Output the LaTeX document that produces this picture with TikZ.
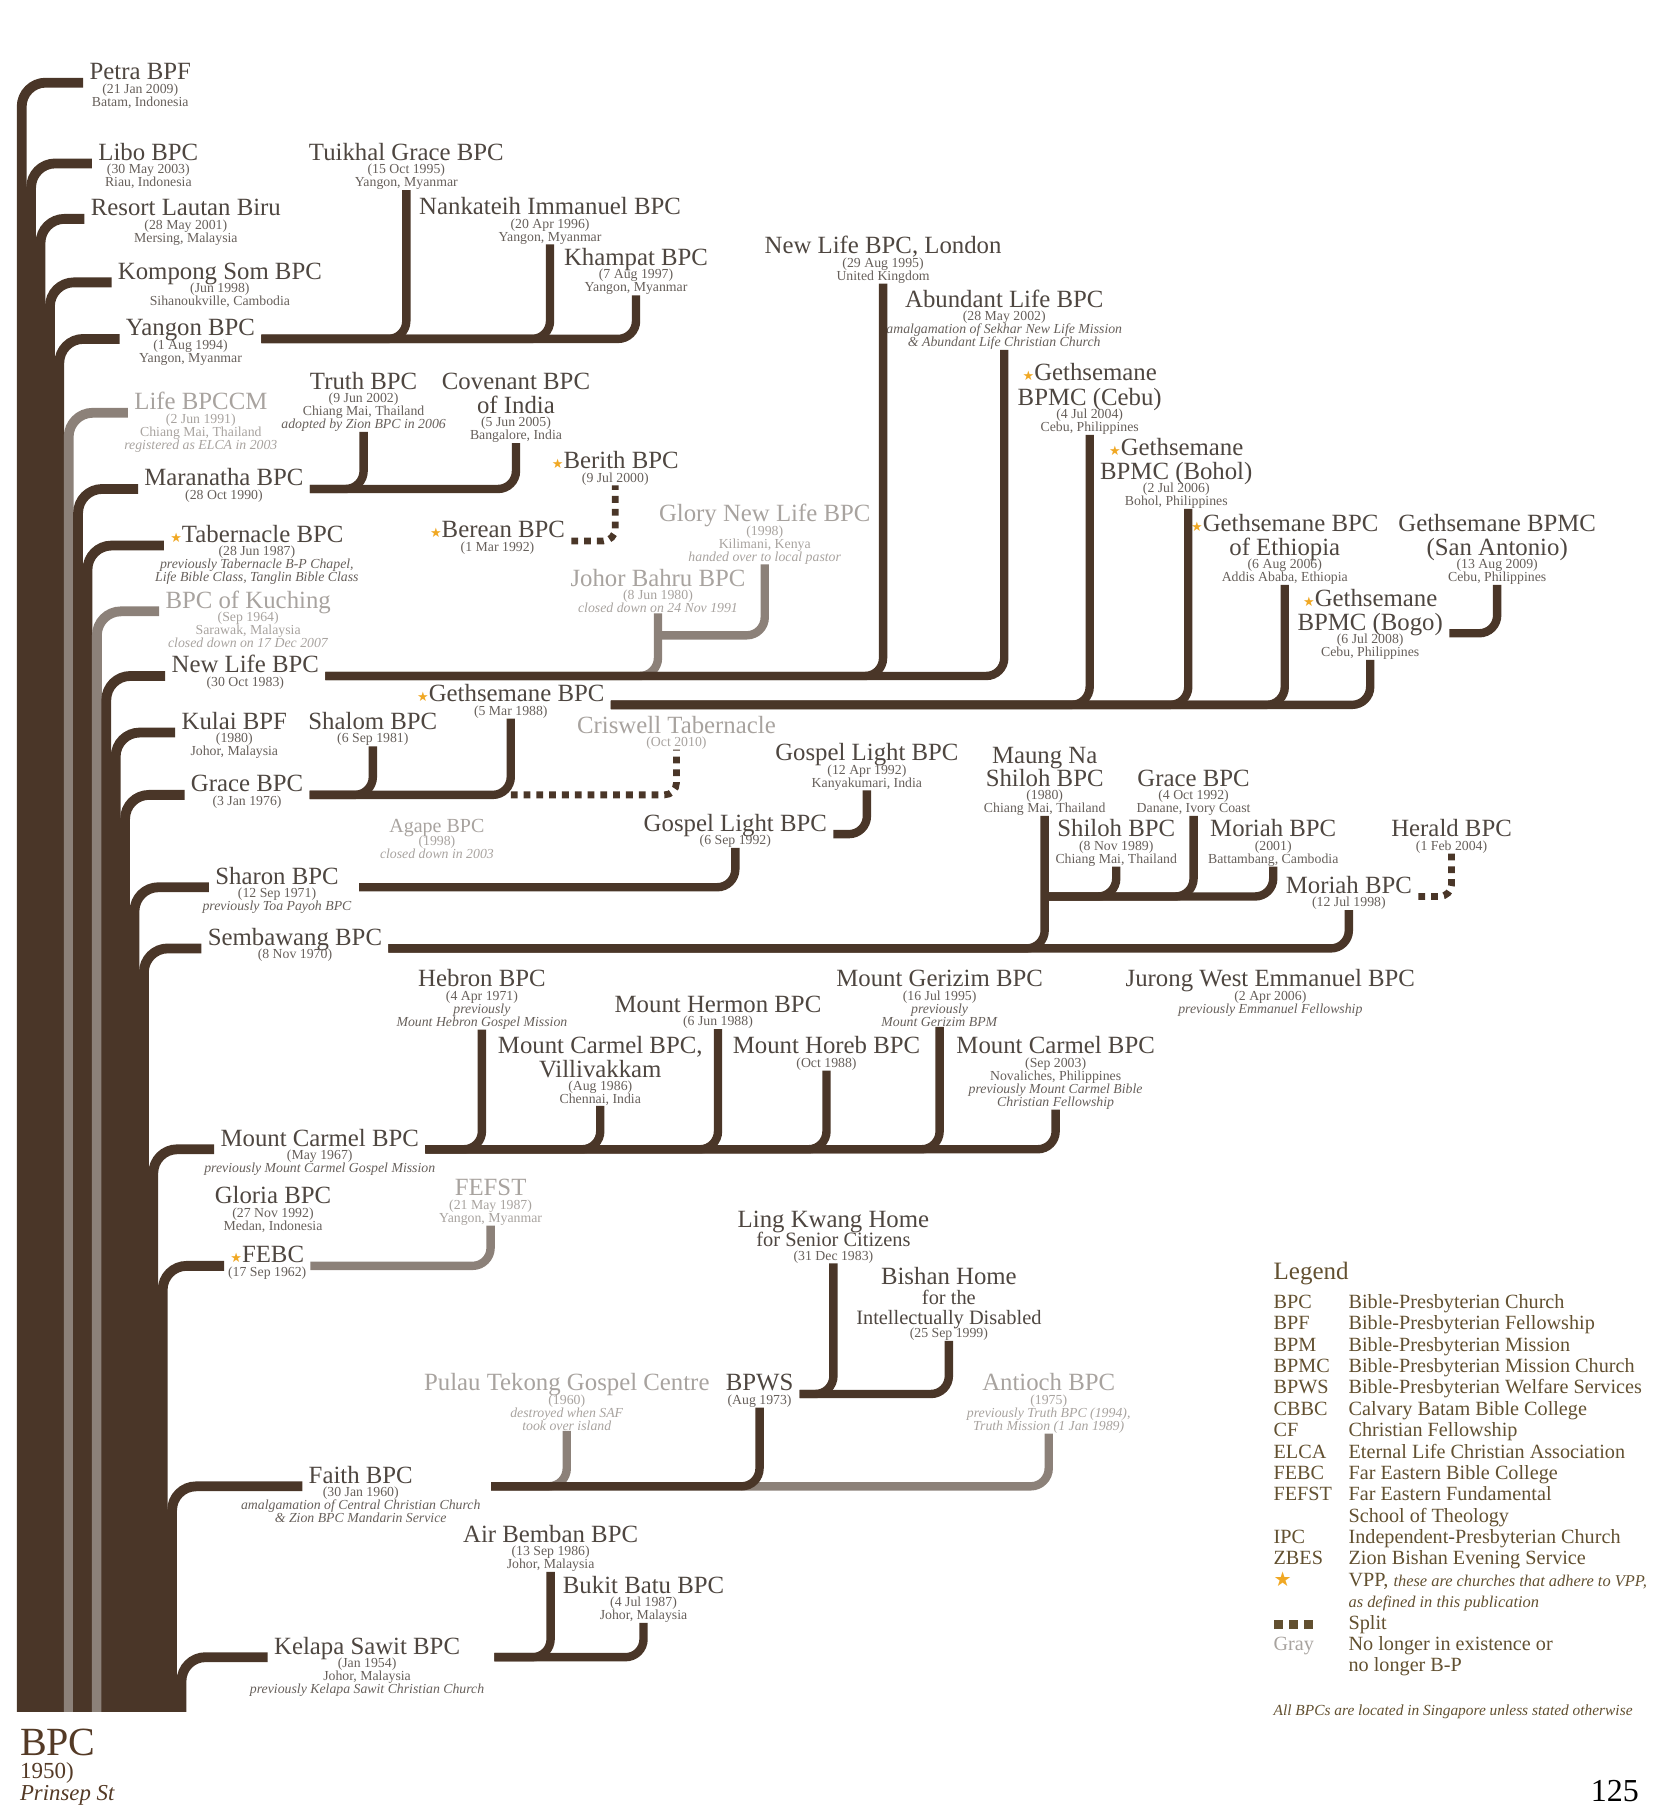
\documentclass[tikz,border=0pt]{standalone}
\usepackage{fontspec}
\setmainfont{Liberation Serif}
\newfontfamily\starfont{DejaVu Sans}
\definecolor{bark}{RGB}{74,54,40}
\definecolor{ash}{RGB}{140,129,121}
\definecolor{ink}{RGB}{78,70,64}
\definecolor{inksoft}{RGB}{102,95,90}
\definecolor{faded}{RGB}{168,163,159}
\definecolor{vppgold}{RGB}{240,168,36}
\definecolor{legendbrown}{RGB}{98,80,48}
\definecolor{bpcbrown}{RGB}{84,58,38}
\usetikzlibrary{positioning,calc}
\newcommand{\vppstar}{{\starfont\fontsize{6.5}{6.5}\selectfont\textcolor{vppgold}{★}}}

\begin{document}
\begin{tikzpicture}[x=0.5773pt, y=-0.5773pt,
    ttl/.style={font=\fontsize{12.4}{11.5}\selectfont, text=ink, anchor=base, inner xsep=3pt, inner ysep=0pt, text height=0pt, text depth=3pt},
    ttlsmall/.style={ttl, font=\fontsize{10.2}{10}\selectfont},
    gttl/.style={ttl, text=faded},
    info/.style={font={\fontsize{6.9}{6.5}\selectfont\lineskiplimit=-5pt}, text=inksoft, align=center, inner sep=0pt},
    ginfo/.style={info, text=faded},
    strand/.style={draw=bark, line width=4.9pt, rounded corners=12pt},
    gstrand/.style={strand, draw=ash},
    branch/.style={draw=bark, line width=4.2pt, rounded corners=9pt},
    gbranch/.style={branch, draw=ash},
    split/.style={draw=bark, line width=3.4pt, dash pattern=on 3.4pt off 3pt, rounded corners=6pt},
    legend/.style={font=\fontsize{10.1}{10.7}\selectfont, text=legendbrown, inner sep=0pt}]
    \useasboundingbox (0,0) rectangle (1455,1568);

    % Trunk branches
    \node[ttl] (petra) at (121.5,69) {Petra BPF};
    \node[info, below=-1.5pt of petra] (petra-i) {(21 Jan 2009)\\Batam, Indonesia};
    \node[ttl] (libo) at (128.5,139) {Libo BPC};
    \node[info, below=-1.5pt of libo] (libo-i) {(30 May 2003)\\Riau, Indonesia};
    \node[ttl] (resort) at (161,187) {Resort Lautan Biru};
    \node[info, below=-1.5pt of resort] (resort-i) {(28 May 2001)\\Mersing, Malaysia};
    \node[ttl] (kompong) at (190.5,242) {Kompong Som BPC};
    \node[info, below=-1.5pt of kompong] (kompong-i) {(Jun 1998)\\Sihanoukville, Cambodia};
    \node[ttl] (yangon) at (165,291) {Yangon BPC};
    \node[info, below=-1.5pt of yangon] (yangon-i) {(1 Aug 1994)\\Yangon, Myanmar};
    \node[gttl] (lifecm) at (174,355) {Life BPCCM};
    \node[ginfo, below=-1.5pt of lifecm] (lifecm-i) {(2 Jun 1991)\\Chiang Mai, Thailand\\\textit{registered as ELCA in 2003}};
    \node[ttl] (maranatha) at (194,421) {Maranatha BPC};
    \node[info, below=-1.5pt of maranatha] (maranatha-i) {(28 Oct 1990)};
    \node[ttl] (tabernacle) at (222.5,470) {\vppstar Tabernacle BPC};
    \node[info, below=-1.5pt of tabernacle] (tabernacle-i) {(28 Jun 1987)\\\textit{previously Tabernacle B-P Chapel,}\\\textit{Life Bible Class, Tanglin Bible Class}};
    \node[gttl] (kuching) at (215,527) {BPC of Kuching};
    \node[ginfo, below=-1.5pt of kuching] (kuching-i) {(Sep 1964)\\Sarawak, Malaysia\\\textit{closed down on 17 Dec 2007}};
    \node[ttl] (newlife) at (212.5,583) {New Life BPC};
    \node[info, below=-1.5pt of newlife] (newlife-i) {(30 Oct 1983)};
    \node[ttl] (kulai) at (203,632) {Kulai BPF};
    \node[info, below=-1.5pt of kulai] (kulai-i) {(1980)\\Johor, Malaysia};
    \node[ttl] (grace) at (214,686) {Grace BPC};
    \node[info, below=-1.5pt of grace] (grace-i) {(3 Jan 1976)};
    \node[ttl] (sharon) at (240,766) {Sharon BPC};
    \node[info, below=-1.5pt of sharon] (sharon-i) {(12 Sep 1971)\\\textit{previously Toa Payoh BPC}};
    \node[ttl] (sembawang) at (255.5,819) {Sembawang BPC};
    \node[info, below=-1.5pt of sembawang] (sembawang-i) {(8 Nov 1970)};
    \node[ttl] (mtcarmel) at (277,993) {Mount Carmel BPC};
    \node[info, below=-1.5pt of mtcarmel] (mtcarmel-i) {(May 1967)\\\textit{previously Mount Carmel Gospel Mission}};
    \node[ttl] (gloria) at (236.5,1043) {Gloria BPC};
    \node[info, below=-1.5pt of gloria] (gloria-i) {(27 Nov 1992)\\Medan, Indonesia};
    \node[ttl] (febc) at (231.5,1094) {\vppstar FEBC};
    \node[info, below=-1.5pt of febc] (febc-i) {(17 Sep 1962)};
    \node[ttl] (faith) at (312.5,1285) {Faith BPC};
    \node[info, below=-1.5pt of faith] (faith-i) {(30 Jan 1960)\\\textit{amalgamation of Central Christian Church}\\\textit{\& Zion BPC Mandarin Service}};
    \node[ttl] (kelapa) at (318,1433) {Kelapa Sawit BPC};
    \node[info, below=-1.5pt of kelapa] (kelapa-i) {(Jan 1954)\\Johor, Malaysia\\\textit{previously Kelapa Sawit Christian Church}};

    % Trunk
    \coordinate (root) at (18.8,1483);
    \draw[strand] (root) |- (petra.west);
    \draw[strand] ([xshift=4.7pt]root) |- (libo.west);
    \draw[strand] ([xshift=9.4pt]root) |- (resort.west);
    \draw[strand] ([xshift=14.1pt]root) |- (kompong.west);
    \draw[strand] ([xshift=18.8pt]root) |- (yangon.west);
    \draw[gstrand] ([xshift=23.5pt]root) |- (lifecm.west);
    \draw[strand] ([xshift=28.2pt]root) |- (maranatha.west);
    \draw[strand] ([xshift=32.9pt]root) |- (tabernacle.west);
    \draw[gstrand] ([xshift=37.6pt]root) |- (kuching.west);
    \draw[strand] ([xshift=42.3pt]root) |- (newlife.west);
    \draw[strand] ([xshift=47pt]root) |- (kulai.west);
    \draw[strand] ([xshift=51.7pt]root) |- (grace.west);
    \draw[strand] ([xshift=56.4pt]root) |- (sharon.west);
    \draw[strand] ([xshift=61.1pt]root) |- (sembawang.west);
    \draw[strand] ([xshift=65.8pt]root) |- (mtcarmel.west);
    \draw[strand] ([xshift=70.5pt]root) |- (febc.west);
    \draw[strand] ([xshift=75.2pt]root) |- (faith.west);
    \draw[strand] ([xshift=79.9pt]root) |- (kelapa.west);

    % Yangon's churches
    \node[ttl] (tuikhal) at (352,139) {Tuikhal Grace BPC};
    \node[info, below=-1.5pt of tuikhal] (tuikhal-i) {(15 Oct 1995)\\Yangon, Myanmar};
    \node[ttl] (nankateih) at (476.5,186) {Nankateih Immanuel BPC};
    \node[info, below=-1.5pt of nankateih] (nankateih-i) {(20 Apr 1996)\\Yangon, Myanmar};
    \node[ttl] (khampat) at (551,230) {Khampat BPC};
    \node[info, below=-1.5pt of khampat] (khampat-i) {(7 Aug 1997)\\Yangon, Myanmar};
    \draw[branch] (yangon.east) -| (tuikhal-i.south);
    \draw[branch] (yangon.east) -| (nankateih-i.south);
    \draw[branch] (yangon.east) -| (khampat-i.south);

    % Maranatha's churches
    \node[ttl] (truth) at (315,337) {Truth BPC};
    \node[info, below=-1.5pt of truth] (truth-i) {(9 Jun 2002)\\Chiang Mai, Thailand\\\textit{adopted by Zion BPC in 2006}};
    \node[ttl] (covenant-t) at (447,337) {Covenant BPC};
    \node[ttl] (covenant) at (447,358) {of India};
    \node[info, below=-1.5pt of covenant] (covenant-i) {(5 Jun 2005)\\Bangalore, India};
    \draw[branch] (maranatha.east) -| (truth-i.south);
    \draw[branch] (maranatha.east) -| (covenant-i.south);

    % Berean and Berith
    \node[ttl] (berith) at (533,406) {\vppstar Berith BPC};
    \node[info, below=-1.5pt of berith] (berith-i) {(9 Jul 2000)};
    \node[ttl] (berean) at (431,466) {\vppstar Berean BPC};
    \node[info, below=-1.5pt of berean] (berean-i) {(1 Mar 1992)};
    \draw[split] (berean.east) -| (berith-i.south);

    % New Life's churches
    \node[gttl] (glory) at (662.5,452) {Glory New Life BPC};
    \node[ginfo, below=-1.5pt of glory] (glory-i) {(1998)\\Kilimani, Kenya\\\textit{handed over to local pastor}};
    \node[gttl] (johor) at (570,508) {Johor Bahru BPC};
    \node[ginfo, below=-1.5pt of johor] (johor-i) {(8 Jun 1980)\\\textit{closed down on 24 Nov 1991}};
    \node[ttl] (nllondon) at (765,220) {New Life BPC, London};
    \node[info, below=-1.5pt of nllondon] (nllondon-i) {(29 Aug 1995)\\United Kingdom};
    \node[ttl] (abundant) at (870,266) {Abundant Life BPC};
    \node[info, below=-1.5pt of abundant] (abundant-i) {(28 May 2002)\\\textit{amalgamation of Sekhar New Life Mission}\\\textit{\& Abundant Life Christian Church}};
    \draw[gbranch] (newlife.east) -| (johor-i.south);
    \draw[gbranch] ([yshift=-11pt]johor-i.south) -| (glory-i.south);
    \draw[branch] (newlife.east) -| (nllondon-i.south);
    \draw[branch] (newlife.east) -| (abundant-i.south);

    % Gethsemane's churches
    \node[ttl] (geth) at (442.5,608) {\vppstar Gethsemane BPC};
    \node[info, below=-1.5pt of geth] (geth-i) {(5 Mar 1988)};
    \node[ttl] (gcebu-t) at (944,330) {\vppstar Gethsemane};
    \node[ttl] (gcebu) at (944,351) {BPMC (Cebu)};
    \node[info, below=-1.5pt of gcebu] (gcebu-i) {(4 Jul 2004)\\Cebu, Philippines};
    \node[ttl] (gbohol-t) at (1019,395) {\vppstar Gethsemane};
    \node[ttl] (gbohol) at (1019,415) {BPMC (Bohol)};
    \node[info, below=-1.5pt of gbohol] (gbohol-i) {(2 Jul 2006)\\Bohol, Philippines};
    \node[ttl] (gethio-t) at (1113,460) {\vppstar Gethsemane BPC};
    \node[ttl] (gethio) at (1113,481) {of Ethiopia};
    \node[info, below=-1.5pt of gethio] (gethio-i) {(6 Aug 2006)\\Addis Ababa, Ethiopia};
    \node[ttl] (gsanant-t) at (1297,460) {Gethsemane BPMC};
    \node[ttl] (gsanant) at (1297,481) {(San Antonio)};
    \node[info, below=-1.5pt of gsanant] (gsanant-i) {(13 Aug 2009)\\Cebu, Philippines};
    \node[ttl] (gbogo-t) at (1187,525) {\vppstar Gethsemane};
    \node[ttl] (gbogo) at (1187,546) {BPMC (Bogo)};
    \node[info, below=-1.5pt of gbogo] (gbogo-i) {(6 Jul 2008)\\Cebu, Philippines};
    \draw[branch] (geth.east) -| (gcebu-i.south);
    \draw[branch] (geth.east) -| ([xshift=6pt]gbohol-i.south);
    \draw[branch] (geth.east) -| (gethio-i.south);
    \draw[branch] (geth.east) -| (gbogo-i.south);
    \draw[branch] (gsanant-i.south) |- (gbogo.east);

    % Grace's churches
    \node[ttl] (shalom) at (323,632) {Shalom BPC};
    \node[info, below=-1.5pt of shalom] (shalom-i) {(6 Sep 1981)};
    \node[gttl] (criswell) at (586,635) {Criswell Tabernacle};
    \node[ginfo, below=-1.5pt of criswell] (criswell-i) {(Oct 2010)};
    \draw[branch] (grace.east) -| (shalom-i.south);
    \draw[branch] (grace.east) -| (geth-i.south);
    \draw[split] (geth-i.south |- grace.east) -| (criswell-i.south);

    % Sharon and Gospel Light
    \node[ttl] (gl1) at (751,659) {Gospel Light BPC};
    \node[info, below=-1.5pt of gl1] (gl1-i) {(12 Apr 1992)\\Kanyakumari, India};
    \node[ttl] (gl2) at (637,720) {Gospel Light BPC};
    \node[info, below=-1.5pt of gl2] (gl2-i) {(6 Sep 1992)};
    \node[gttl, font=\fontsize{10}{10}\selectfont] (agape) at (378.5,721) {Agape BPC};
    \node[ginfo, below=-1.5pt of agape] (agape-i) {(1998)\\\textit{closed down in 2003}};
    \draw[branch] (gl2.east) -| (gl1-i.south);
    \draw[branch] ([xshift=7pt]sharon.east) -| (gl2-i.south);

    % Sembawang's churches
    \node[ttl] (maungna-t) at (905,661) {Maung Na};
    \node[ttl] (maungna) at (905,681) {Shiloh BPC};
    \node[info, below=-1.5pt of maungna] (maungna-i) {(1980)\\Chiang Mai, Thailand};
    \node[ttl] (gracec) at (1034,681) {Grace BPC};
    \node[info, below=-1.5pt of gracec] (gracec-i) {(4 Oct 1992)\\Danane, Ivory Coast};
    \node[ttl] (shiloh) at (967,725) {Shiloh BPC};
    \node[info, below=-1.5pt of shiloh] (shiloh-i) {(8 Nov 1989)\\Chiang Mai, Thailand};
    \node[ttl] (moriah1) at (1103,725) {Moriah BPC};
    \node[info, below=-1.5pt of moriah1] (moriah1-i) {(2001)\\Battambang, Cambodia};
    \node[ttl] (herald) at (1257.5,725) {Herald BPC};
    \node[info, below=-1.5pt of herald] (herald-i) {(1 Feb 2004)};
    \node[ttl] (moriah2) at (1168.5,774) {Moriah BPC};
    \node[info, below=-1.5pt of moriah2] (moriah2-i) {(12 Jul 1998)};
    \draw[branch] (sembawang.east) -| (maungna-i.south);
    \draw[branch] (sembawang.east) -| (moriah2-i.south);
    \draw[branch] (maungna-i.south |- moriah2.west) -| (shiloh-i.south);
    \draw[branch] (maungna-i.south |- moriah2.west) -| (gracec-i.south);
    \draw[branch] (maungna-i.south |- moriah2.west) -| (moriah1-i.south);
    \draw[split] (herald-i.south) |- (moriah2.east);

    % Mount Carmel's churches
    \node[ttl] (hebron) at (417.5,855) {Hebron BPC};
    \node[info, below=-1.5pt of hebron] (hebron-i) {(4 Apr 1971)\\\textit{previously}\\\textit{Mount Hebron Gospel Mission}};
    \node[ttl] (villi-t) at (520,913) {Mount Carmel BPC,};
    \node[ttl] (villi) at (520,933) {Villivakkam};
    \node[info, below=-1.5pt of villi] (villi-i) {(Aug 1986)\\Chennai, India};
    \node[ttl] (hermon) at (622,877) {Mount Hermon BPC};
    \node[info, below=-1.5pt of hermon] (hermon-i) {(6 Jun 1988)};
    \node[ttl] (horeb) at (716,913) {Mount Horeb BPC};
    \node[info, below=-1.5pt of horeb] (horeb-i) {(Oct 1988)};
    \node[ttl] (gerizim) at (814,855) {Mount Gerizim BPC};
    \node[info, below=-1.5pt of gerizim] (gerizim-i) {(16 Jul 1995)\\\textit{previously}\\\textit{Mount Gerizim BPM}};
    \node[ttl] (mcphil) at (914.5,913) {Mount Carmel BPC};
    \node[info, below=-1.5pt of mcphil] (mcphil-i) {(Sep 2003)\\Novaliches, Philippines\\\textit{previously Mount Carmel Bible}\\\textit{Christian Fellowship}};
    \node[ttl] (jurong) at (1100.5,855) {Jurong West Emmanuel BPC};
    \node[info, below=-1.5pt of jurong] (jurong-i) {(2 Apr 2006)\\\textit{previously Emmanuel Fellowship}};
    \draw[branch] (mtcarmel.east) -| (hebron-i.south);
    \draw[branch] (mtcarmel.east) -| (villi-i.south);
    \draw[branch] (mtcarmel.east) -| (hermon-i.south);
    \draw[branch] (mtcarmel.east) -| (horeb-i.south);
    \draw[branch] (mtcarmel.east) -| (gerizim-i.south);
    \draw[branch] (mtcarmel.east) -| (mcphil-i.south);

    % FEBC
    \node[gttl] (fefst) at (425,1036) {FEFST};
    \node[ginfo, below=-1.5pt of fefst] (fefst-i) {(21 May 1987)\\Yangon, Myanmar};
    \draw[gbranch] (febc.east) -| (fefst-i.south);

    % Faith's churches
    \node[gttl] (tekong) at (491,1205) {Pulau Tekong Gospel Centre};
    \node[ginfo, below=-1.5pt of tekong] (tekong-i) {(1960)\\\textit{destroyed when SAF}\\\textit{took over island}};
    \node[ttl] (bpws) at (658,1205) {BPWS};
    \node[info, below=-1.5pt of bpws] (bpws-i) {(Aug 1973)};
    \node[gttl] (antioch) at (908.5,1205) {Antioch BPC};
    \node[ginfo, below=-1.5pt of antioch] (antioch-i) {(1975)\\\textit{previously Truth BPC (1994),}\\\textit{Truth Mission (1 Jan 1989)}};
    \node[ttl] (lingkwang-t) at (722,1063) {Ling Kwang Home};
    \node[ttlsmall] (lingkwang) at (722,1080) {for Senior Citizens};
    \node[info, below=-1.5pt of lingkwang] (lingkwang-i) {(31 Dec 1983)};
    \node[ttl] (bishan-t) at (822,1113) {Bishan Home};
    \node[ttlsmall] (bishan-m) at (822,1130) {for the};
    \node[ttlsmall] (bishan) at (822,1147) {Intellectually Disabled};
    \node[info, below=-1.5pt of bishan] (bishan-i) {(25 Sep 1999)};
    \draw[gbranch] ([xshift=36pt]faith.east) -| (tekong-i.south);
    \draw[gbranch] ($(bpws-i.south |- faith.east)+(-9pt,0)$) -| (antioch-i.south);
    \draw[branch] ([xshift=36pt]faith.east) -| (bpws-i.south);
    \draw[branch] (bpws.east) -| (lingkwang-i.south);
    \draw[branch] (bpws.east) -| (bishan-i.south);

    % Kelapa Sawit's churches
    \node[ttl] (airbemban) at (477,1336) {Air Bemban BPC};
    \node[info, below=-1.5pt of airbemban] (airbemban-i) {(13 Sep 1986)\\Johor, Malaysia};
    \node[ttl] (bukitbatu) at (557.5,1380) {Bukit Batu BPC};
    \node[info, below=-1.5pt of bukitbatu] (bukitbatu-i) {(4 Jul 1987)\\Johor, Malaysia};
    \draw[branch] ([xshift=14pt]kelapa.east) -| (airbemban-i.south);
    \draw[branch] ([xshift=14pt]kelapa.east) -| (bukitbatu-i.south);

    % Root
    \node[anchor=base west, inner sep=0pt, text=bpcbrown, font=\fontsize{20}{22}\selectfont] (bpc) at (17,1521) {BPC};
    \node[anchor=base west, inner sep=0pt, text=bpcbrown, font=\fontsize{11.5}{12}\selectfont] (bpc-y) at (17,1541) {1950)};
    \node[anchor=base west, inner sep=0pt, text=bpcbrown, font=\fontsize{11.4}{12}\selectfont\itshape] (bpc-p) at (17,1560) {Prinsep St};

    % Legend
    \node[legend, anchor=base west, font=\fontsize{12.5}{13}\selectfont] (legend-t) at (1103,1108) {Legend};
    \node[legend, anchor=north west] (legend) at (1103,1120) {%
        \begin{tabular}{@{}p{37.5pt}@{}l@{}}
            BPC & Bible-Presbyterian Church\\
            BPF & Bible-Presbyterian Fellowship\\
            BPM & Bible-Presbyterian Mission\\
            BPMC & Bible-Presbyterian Mission Church\\
            BPWS & Bible-Presbyterian Welfare Services\\
            CBBC & Calvary Batam Bible College\\
            CF & Christian Fellowship\\
            ELCA & Eternal Life Christian Association\\
            FEBC & Far Eastern Bible College\\
            FEFST & Far Eastern Fundamental\\
             & School of Theology\\
            IPC & Independent-Presbyterian Church\\
            ZBES & Zion Bishan Evening Service\\
            \textcolor{vppgold}{\starfont ★} & VPP, {\fontsize{8.2}{10.7}\selectfont\itshape these are churches that adhere to VPP,}\\
             & {\fontsize{8.2}{10.7}\selectfont\itshape as defined in this publication}\\
            \rule{4.6pt}{4.6pt}\hspace{3pt}\rule{4.6pt}{4.6pt}\hspace{3pt}\rule{4.6pt}{4.6pt} & Split\\
            \textcolor{faded}{Gray} & No longer in existence or\\
             & no longer B-P
        \end{tabular}};
    \node[legend, anchor=base west, font=\fontsize{7.7}{9}\selectfont\itshape] (note) at (1103,1486) {All BPCs are located in Singapore unless stated otherwise};
    \node[anchor=base east, inner sep=0pt, font=\fontsize{16}{18}\selectfont] (page) at (1420,1561) {125};
\end{tikzpicture}
\end{document}
